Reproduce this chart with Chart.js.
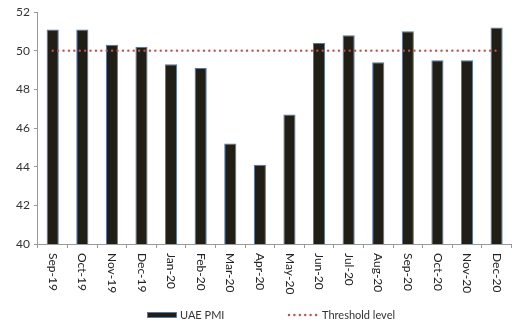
<!DOCTYPE html>
<html>
<head>
<meta charset="utf-8">
<script src="https://cdn.jsdelivr.net/npm/chart.js@4.4.0/dist/chart.umd.min.js"></script>
<style>
  html, body { margin: 0; padding: 0; background: #fff; }
</style>
</head>
<body>
<canvas id="pmiChart" width="515" height="327"></canvas>
<script>
const months = ["Sep-19", "Oct-19", "Nov-19", "Dec-19", "Jan-20", "Feb-20", "Mar-20", "Apr-20",
                "May-20", "Jun-20", "Jul-20", "Aug-20", "Sep-20", "Oct-20", "Nov-20", "Dec-20"];
const pmiValues = [51.1, 51.1, 50.3, 50.2, 49.3, 49.1, 45.2, 44.1, 46.7, 50.4, 50.8, 49.4, 51.0, 49.5, 49.5, 51.2];
const thresholdValues = [50, 50, 50, 50, 50, 50, 50, 50, 50, 50, 50, 50, 50, 50, 50, 50];
const yTicks = [40, 42, 44, 46, 48, 50, 52];

const FONT = "Lato";
const barFill = "#211f15";
const barEdge = "#4f76ad";
const dotRed = "#c0504d";

// month labels read top-to-bottom, which Chart.js can't rotate to on its own
const verticalLabels = {
    id: "verticalLabels",
    afterDraw(chart) {
        const x = chart.scales.x;
        const ctx = chart.ctx;
        ctx.save();
        ctx.font = "12px " + FONT;
        ctx.fillStyle = "#222";
        ctx.textAlign = "left";
        ctx.textBaseline = "middle";
        months.forEach((m, i) => {
            ctx.save();
            ctx.translate(x.getPixelForTick(i), x.top + 9);
            ctx.rotate(Math.PI / 2);
            ctx.fillText(m, 0, 0);
            ctx.restore();
        });
        ctx.restore();
    }
};

// legend with the wide gap between the two entries
const bottomLegend = {
    id: "bottomLegend",
    afterDraw(chart) {
        const ctx = chart.ctx;
        const ds = chart.data.datasets;
        const y = 315;
        ctx.save();
        ctx.font = "11px " + FONT;
        ctx.textBaseline = "middle";

        ctx.fillStyle = barFill;
        ctx.fillRect(147.5, y - 2.5, 29, 5);
        ctx.strokeStyle = barEdge;
        ctx.lineWidth = 0.8;
        ctx.strokeRect(147.5, y - 2.5, 29, 5);
        ctx.fillStyle = "#333";
        ctx.fillText(ds[1].label, 180, y);

        ctx.strokeStyle = dotRed;
        ctx.lineWidth = 2.4;
        ctx.lineCap = "round";
        ctx.setLineDash([0, 5.4]);
        ctx.beginPath();
        ctx.moveTo(289, y);
        ctx.lineTo(319, y);
        ctx.stroke();
        ctx.setLineDash([]);
        ctx.fillText(ds[0].label, 322, y);
        ctx.restore();
    }
};

const ctx = document.getElementById("pmiChart").getContext("2d");
new Chart(ctx, {
    data: {
        labels: months,
        datasets: [{
            type: "line",
            label: "Threshold level",
            data: thresholdValues,
            borderColor: dotRed,
            borderWidth: 2.4,
            borderDash: [0, 5.4],
            borderCapStyle: "round",
            pointRadius: 0,
            fill: false,
            order: 1
        }, {
            type: "bar",
            label: "UAE PMI",
            data: pmiValues,
            backgroundColor: barFill,
            borderColor: barEdge,
            borderWidth: 1,
            barPercentage: 0.41,
            categoryPercentage: 1,
            order: 2
        }]
    },
    options: {
        responsive: false,
        animation: false,
        layout: {
            padding: { left: 12, right: -4, top: 12, bottom: 39 }
        },
        plugins: {
            legend: { display: false },
            tooltip: { enabled: false }
        },
        scales: {
            x: {
                afterFit: (scale) => { scale.height = 44; },
                grid: { drawOnChartArea: false, tickLength: 4, color: "#999" },
                border: { color: "#999" },
                ticks: {
                    color: "rgba(0,0,0,0)",
                    font: { family: FONT, size: 12 },
                    minRotation: 90,
                    maxRotation: 90,
                    padding: 4
                }
            },
            y: {
                min: yTicks[0],
                max: yTicks[yTicks.length - 1],
                afterBuildTicks: (scale) => { scale.ticks = yTicks.map((v) => ({ value: v })); },
                grid: { drawOnChartArea: false, tickLength: 4, color: "#999" },
                border: { color: "#999" },
                ticks: {
                    color: "#333",
                    font: { family: FONT, size: 12 },
                    padding: 4
                }
            }
        }
    },
    plugins: [verticalLabels, bottomLegend]
});
</script>
</body>
</html>
